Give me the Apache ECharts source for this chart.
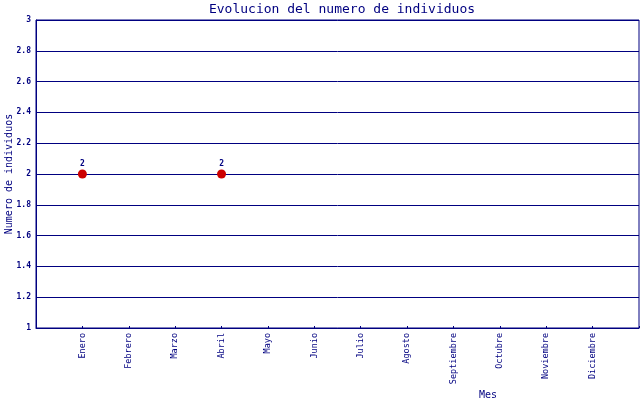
<!DOCTYPE html>
<html><head><meta charset="utf-8">
<script src="https://cdn.jsdelivr.net/npm/echarts@6/dist/echarts.min.js"></script>
<style>html,body{margin:0;padding:0;background:#fff}#c{width:640px;height:400px}</style>
</head><body><div id="c"></div>
<script>
const months = ['Enero','Febrero','Marzo','Abril','Mayo','Junio','Julio','Agosto','Septiembre','Octubre','Noviembre','Diciembre'];
const values = [2, null, null, 2, null, null, null, null, null, null, null, null];
const yMin = 1, yMax = 3, yStep = 0.2;

const navy = '#000080';
const cats = [''].concat(months, ['']);
const seriesData = [null].concat(values, [null]);

const chart = echarts.init(document.getElementById('c'));
chart.setOption({
  animation: false,
  backgroundColor: '#fff',
  title: [
    {text: 'Evolucion del numero de individuos', left: 337, top: -2, textAlign: 'center',
     textStyle: {fontFamily: 'DejaVu Sans Mono', fontSize: 13, fontWeight: 'normal', color: navy}},
    {text: 'Mes', left: 483, top: 385, textAlign: 'center',
     textStyle: {fontFamily: 'DejaVu Sans Mono', fontSize: 10, fontWeight: 'normal', color: navy}}
  ],
  grid: {left: 36, right: 1, top: 20, bottom: 72, containLabel: false, outerBoundsMode: 'none',
    show: true, borderColor: navy, borderWidth: 1, backgroundColor: 'transparent'},
  xAxis: {
    type: 'category', data: cats, boundaryGap: false,
    axisLine: {lineStyle: {color: navy}},
    axisTick: {inside: true, length: 2, lineStyle: {color: navy}},
    axisLabel: {rotate: 90, margin: 5, interval: 0, fontFamily: 'DejaVu Sans Mono', fontSize: 8.5, color: navy},
    splitLine: {show: false}
  },
  yAxis: {
    type: 'value', min: yMin, max: yMax, interval: yStep,
    name: 'Numero de individuos', nameLocation: 'middle', nameGap: 22, nameMoveOverlap: false,
    nameTextStyle: {fontFamily: 'DejaVu Sans Mono', fontSize: 10, color: navy},
    axisLine: {show: true, lineStyle: {color: navy}},
    axisTick: {show: false},
    axisLabel: {margin: 5, fontFamily: 'DejaVu Sans Mono', fontSize: 8, fontWeight: 'bold', color: navy,
      formatter: v => String(Math.round(v * 10) / 10)},
    splitLine: {show: true, lineStyle: {color: navy, width: 1}}
  },
  series: [{
    type: 'scatter', data: seriesData, symbol: 'circle', symbolSize: 9,
    itemStyle: {color: '#cc0000', opacity: 1},
    label: {show: true, position: 'top', distance: 2, fontFamily: 'DejaVu Sans Mono', fontSize: 8, fontWeight: 'bold', color: navy}
  }]
});
</script></body></html>
